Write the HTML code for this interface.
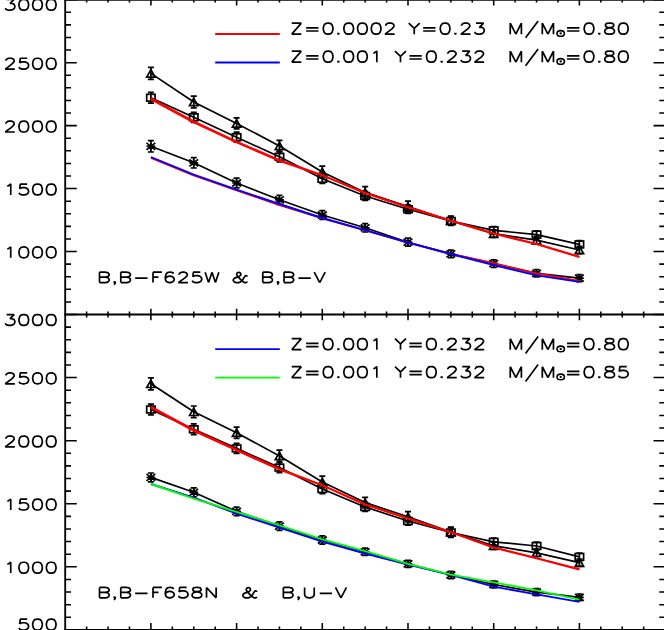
<!DOCTYPE html>
<html><head><meta charset="utf-8"><title>Chart</title>
<style>
html,body{margin:0;padding:0;background:#fff;}
body{width:664px;height:630px;overflow:hidden;}
svg{display:block;}

body,svg{font-family:"Liberation Sans",sans-serif;}
</style></head><body>
<svg width="664" height="630" viewBox="0 0 664 630">
<rect width="664" height="630" fill="#fff"/>
<polyline points="150.90,73.40 193.75,102.00 236.60,123.40 279.45,145.90 322.30,172.00 365.15,192.40 408.00,206.50 450.85,220.70 493.70,233.60 536.55,240.10 579.40,250.00" fill="none" stroke="#000" stroke-width="1.7" stroke-linejoin="round"/>
<polyline points="150.90,97.70 193.75,117.30 236.60,137.20 279.45,156.80 322.30,178.80 365.15,196.00 408.00,209.30 450.85,221.00 493.70,230.30 536.55,234.60 579.40,244.40" fill="none" stroke="#000" stroke-width="1.7" stroke-linejoin="round"/>
<polyline points="150.90,146.30 193.75,162.80 236.60,183.00 279.45,199.80 322.30,215.00 365.15,227.80 408.00,242.20 450.85,253.90 493.70,263.70 536.55,273.30 579.40,278.20" fill="none" stroke="#000" stroke-width="1.7" stroke-linejoin="round"/>
<path d="M150.90 67.40V79.40M147.90 67.40H153.90M147.90 79.40H153.90" stroke="#000" stroke-width="1.7" fill="none"/>
<path d="M150.90 69.70L155.10 77.10H146.70Z" stroke="#000" stroke-width="1.7" fill="none" stroke-linejoin="miter"/>
<path d="M150.90 92.30V103.10M147.90 92.30H153.90M147.90 103.10H153.90" stroke="#000" stroke-width="1.7" fill="none"/>
<rect x="146.70" y="94.30" width="8.40" height="6.80" stroke="#000" stroke-width="1.7" fill="none"/>
<path d="M150.90 140.60V152.00M147.90 140.60H153.90M147.90 152.00H153.90" stroke="#000" stroke-width="1.7" fill="none"/>
<path d="M146.50 146.30H155.30M150.90 142.80V149.80M146.50 142.80L155.30 149.80M146.50 149.80L155.30 142.80" stroke="#000" stroke-width="1.7" fill="none"/>
<path d="M193.75 96.20V107.80M190.75 96.20H196.75M190.75 107.80H196.75" stroke="#000" stroke-width="1.7" fill="none"/>
<path d="M193.75 98.30L197.95 105.70H189.55Z" stroke="#000" stroke-width="1.7" fill="none" stroke-linejoin="miter"/>
<path d="M193.75 112.30V122.30M190.75 112.30H196.75M190.75 122.30H196.75" stroke="#000" stroke-width="1.7" fill="none"/>
<rect x="189.55" y="113.90" width="8.40" height="6.80" stroke="#000" stroke-width="1.7" fill="none"/>
<path d="M193.75 157.60V168.00M190.75 157.60H196.75M190.75 168.00H196.75" stroke="#000" stroke-width="1.7" fill="none"/>
<path d="M189.35 162.80H198.15M193.75 159.30V166.30M189.35 159.30L198.15 166.30M189.35 166.30L198.15 159.30" stroke="#000" stroke-width="1.7" fill="none"/>
<path d="M236.60 117.90V128.90M233.60 117.90H239.60M233.60 128.90H239.60" stroke="#000" stroke-width="1.7" fill="none"/>
<path d="M236.60 119.70L240.80 127.10H232.40Z" stroke="#000" stroke-width="1.7" fill="none" stroke-linejoin="miter"/>
<path d="M236.60 132.20V142.20M233.60 132.20H239.60M233.60 142.20H239.60" stroke="#000" stroke-width="1.7" fill="none"/>
<rect x="232.40" y="133.80" width="8.40" height="6.80" stroke="#000" stroke-width="1.7" fill="none"/>
<path d="M236.60 178.20V187.80M233.60 178.20H239.60M233.60 187.80H239.60" stroke="#000" stroke-width="1.7" fill="none"/>
<path d="M232.20 183.00H241.00M236.60 179.50V186.50M232.20 179.50L241.00 186.50M232.20 186.50L241.00 179.50" stroke="#000" stroke-width="1.7" fill="none"/>
<path d="M279.45 140.40V151.40M276.45 140.40H282.45M276.45 151.40H282.45" stroke="#000" stroke-width="1.7" fill="none"/>
<path d="M279.45 142.20L283.65 149.60H275.25Z" stroke="#000" stroke-width="1.7" fill="none" stroke-linejoin="miter"/>
<path d="M279.45 151.80V161.80M276.45 151.80H282.45M276.45 161.80H282.45" stroke="#000" stroke-width="1.7" fill="none"/>
<rect x="275.25" y="153.40" width="8.40" height="6.80" stroke="#000" stroke-width="1.7" fill="none"/>
<path d="M279.45 195.30V204.30M276.45 195.30H282.45M276.45 204.30H282.45" stroke="#000" stroke-width="1.7" fill="none"/>
<path d="M275.05 199.80H283.85M279.45 196.30V203.30M275.05 196.30L283.85 203.30M275.05 203.30L283.85 196.30" stroke="#000" stroke-width="1.7" fill="none"/>
<path d="M322.30 166.20V177.80M319.30 166.20H325.30M319.30 177.80H325.30" stroke="#000" stroke-width="1.7" fill="none"/>
<path d="M322.30 168.30L326.50 175.70H318.10Z" stroke="#000" stroke-width="1.7" fill="none" stroke-linejoin="miter"/>
<path d="M322.30 174.20V183.40M319.30 174.20H325.30M319.30 183.40H325.30" stroke="#000" stroke-width="1.7" fill="none"/>
<rect x="318.10" y="175.40" width="8.40" height="6.80" stroke="#000" stroke-width="1.7" fill="none"/>
<path d="M322.30 210.70V219.30M319.30 210.70H325.30M319.30 219.30H325.30" stroke="#000" stroke-width="1.7" fill="none"/>
<path d="M317.90 215.00H326.70M322.30 211.50V218.50M317.90 211.50L326.70 218.50M317.90 218.50L326.70 211.50" stroke="#000" stroke-width="1.7" fill="none"/>
<path d="M365.15 186.60V198.20M362.15 186.60H368.15M362.15 198.20H368.15" stroke="#000" stroke-width="1.7" fill="none"/>
<path d="M365.15 188.70L369.35 196.10H360.95Z" stroke="#000" stroke-width="1.7" fill="none" stroke-linejoin="miter"/>
<path d="M365.15 191.60V200.40M362.15 191.60H368.15M362.15 200.40H368.15" stroke="#000" stroke-width="1.7" fill="none"/>
<rect x="360.95" y="192.60" width="8.40" height="6.80" stroke="#000" stroke-width="1.7" fill="none"/>
<path d="M365.15 223.60V232.00M362.15 223.60H368.15M362.15 232.00H368.15" stroke="#000" stroke-width="1.7" fill="none"/>
<path d="M360.75 227.80H369.55M365.15 224.30V231.30M360.75 224.30L369.55 231.30M360.75 231.30L369.55 224.30" stroke="#000" stroke-width="1.7" fill="none"/>
<path d="M408.00 201.10V211.90M405.00 201.10H411.00M405.00 211.90H411.00" stroke="#000" stroke-width="1.7" fill="none"/>
<path d="M408.00 202.80L412.20 210.20H403.80Z" stroke="#000" stroke-width="1.7" fill="none" stroke-linejoin="miter"/>
<path d="M408.00 205.10V213.50M405.00 205.10H411.00M405.00 213.50H411.00" stroke="#000" stroke-width="1.7" fill="none"/>
<rect x="403.80" y="205.90" width="8.40" height="6.80" stroke="#000" stroke-width="1.7" fill="none"/>
<path d="M408.00 238.20V246.20M405.00 238.20H411.00M405.00 246.20H411.00" stroke="#000" stroke-width="1.7" fill="none"/>
<path d="M403.60 242.20H412.40M408.00 238.70V245.70M403.60 238.70L412.40 245.70M403.60 245.70L412.40 238.70" stroke="#000" stroke-width="1.7" fill="none"/>
<path d="M450.85 216.20V225.20M447.85 216.20H453.85M447.85 225.20H453.85" stroke="#000" stroke-width="1.7" fill="none"/>
<path d="M450.85 217.00L455.05 224.40H446.65Z" stroke="#000" stroke-width="1.7" fill="none" stroke-linejoin="miter"/>
<path d="M450.85 216.50V225.50M447.85 216.50H453.85M447.85 225.50H453.85" stroke="#000" stroke-width="1.7" fill="none"/>
<rect x="446.65" y="217.60" width="8.40" height="6.80" stroke="#000" stroke-width="1.7" fill="none"/>
<path d="M450.85 250.10V257.70M447.85 250.10H453.85M447.85 257.70H453.85" stroke="#000" stroke-width="1.7" fill="none"/>
<path d="M446.45 253.90H455.25M450.85 250.40V257.40M446.45 250.40L455.25 257.40M446.45 257.40L455.25 250.40" stroke="#000" stroke-width="1.7" fill="none"/>
<path d="M493.70 229.90V237.30M490.70 229.90H496.70M490.70 237.30H496.70" stroke="#000" stroke-width="1.7" fill="none"/>
<path d="M493.70 229.90L497.90 237.30H489.50Z" stroke="#000" stroke-width="1.7" fill="none" stroke-linejoin="miter"/>
<path d="M493.70 226.50V234.10M490.70 226.50H496.70M490.70 234.10H496.70" stroke="#000" stroke-width="1.7" fill="none"/>
<rect x="489.50" y="226.90" width="8.40" height="6.80" stroke="#000" stroke-width="1.7" fill="none"/>
<path d="M493.70 259.90V267.50M490.70 259.90H496.70M490.70 267.50H496.70" stroke="#000" stroke-width="1.7" fill="none"/>
<path d="M489.30 263.70H498.10M493.70 260.20V267.20M489.30 260.20L498.10 267.20M489.30 267.20L498.10 260.20" stroke="#000" stroke-width="1.7" fill="none"/>
<path d="M536.55 236.40V243.80M533.55 236.40H539.55M533.55 243.80H539.55" stroke="#000" stroke-width="1.7" fill="none"/>
<path d="M536.55 236.40L540.75 243.80H532.35Z" stroke="#000" stroke-width="1.7" fill="none" stroke-linejoin="miter"/>
<path d="M536.55 230.80V238.40M533.55 230.80H539.55M533.55 238.40H539.55" stroke="#000" stroke-width="1.7" fill="none"/>
<rect x="532.35" y="231.20" width="8.40" height="6.80" stroke="#000" stroke-width="1.7" fill="none"/>
<path d="M536.55 269.70V276.90M533.55 269.70H539.55M533.55 276.90H539.55" stroke="#000" stroke-width="1.7" fill="none"/>
<path d="M532.15 273.30H540.95M536.55 269.80V276.80M532.15 269.80L540.95 276.80M532.15 276.80L540.95 269.80" stroke="#000" stroke-width="1.7" fill="none"/>
<path d="M579.40 246.30V253.70M576.40 246.30H582.40M576.40 253.70H582.40" stroke="#000" stroke-width="1.7" fill="none"/>
<path d="M579.40 246.30L583.60 253.70H575.20Z" stroke="#000" stroke-width="1.7" fill="none" stroke-linejoin="miter"/>
<path d="M579.40 240.60V248.20M576.40 240.60H582.40M576.40 248.20H582.40" stroke="#000" stroke-width="1.7" fill="none"/>
<rect x="575.20" y="241.00" width="8.40" height="6.80" stroke="#000" stroke-width="1.7" fill="none"/>
<path d="M579.40 274.70V281.70M576.40 274.70H582.40M576.40 281.70H582.40" stroke="#000" stroke-width="1.7" fill="none"/>
<path d="M575.00 278.20H583.80M579.40 274.70V281.70M575.00 274.70L583.80 281.70M575.00 281.70L583.80 274.70" stroke="#000" stroke-width="1.7" fill="none"/>
<polyline points="150.90,98.30 193.75,121.30 236.60,141.45 279.45,160.05 322.30,175.05 365.15,192.88 408.00,207.10 450.85,220.70 493.70,233.45 536.55,243.80 579.40,256.65" fill="none" stroke="#ff0000" stroke-width="1.75" stroke-linejoin="round"/>
<polyline points="150.90,99.50 193.75,122.50 236.60,142.55 279.45,160.95 322.30,175.55 365.15,193.12 408.00,207.30 450.85,220.90 493.70,233.75 536.55,244.20 579.40,257.15" fill="none" stroke="#ff0000" stroke-width="1.75" stroke-linejoin="round"/>
<polyline points="150.90,157.80 193.75,175.50 236.60,190.50 279.45,205.00 322.30,218.40 365.15,230.40 408.00,242.70 450.85,253.80 493.70,263.20 536.55,273.50 579.40,280.80" fill="none" stroke="#ff0000" stroke-width="1.85" stroke-linejoin="round"/>
<polyline points="150.90,157.00 193.75,174.70 236.60,189.60 279.45,204.00 322.30,218.00 365.15,230.10 408.00,242.70 450.85,254.00 493.70,265.00 536.55,275.40 579.40,281.80" fill="none" stroke="#0000ff" stroke-width="1.85" stroke-linejoin="round"/>
<polyline points="150.90,383.80 193.75,411.80 236.60,432.70 279.45,455.90 322.30,482.00 365.15,502.60 408.00,516.80 450.85,532.00 493.70,545.80 536.55,552.80 579.40,562.70" fill="none" stroke="#000" stroke-width="1.7" stroke-linejoin="round"/>
<polyline points="150.90,409.50 193.75,429.30 236.60,448.40 279.45,467.60 322.30,489.00 365.15,507.00 408.00,521.00 450.85,532.50 493.70,541.80 536.55,546.00 579.40,556.90" fill="none" stroke="#000" stroke-width="1.7" stroke-linejoin="round"/>
<polyline points="150.90,477.40 193.75,492.30 236.60,511.40 279.45,526.10 322.30,540.00 365.15,551.80 408.00,563.90 450.85,575.00 493.70,584.50 536.55,592.10 579.40,597.30" fill="none" stroke="#000" stroke-width="1.7" stroke-linejoin="round"/>
<path d="M150.90 377.80V389.80M147.90 377.80H153.90M147.90 389.80H153.90" stroke="#000" stroke-width="1.7" fill="none"/>
<path d="M150.90 380.10L155.10 387.50H146.70Z" stroke="#000" stroke-width="1.7" fill="none" stroke-linejoin="miter"/>
<path d="M150.90 404.20V414.80M147.90 404.20H153.90M147.90 414.80H153.90" stroke="#000" stroke-width="1.7" fill="none"/>
<rect x="146.70" y="406.10" width="8.40" height="6.80" stroke="#000" stroke-width="1.7" fill="none"/>
<path d="M150.90 473.00V481.80M147.90 473.00H153.90M147.90 481.80H153.90" stroke="#000" stroke-width="1.7" fill="none"/>
<path d="M146.50 477.40H155.30M150.90 473.90V480.90M146.50 473.90L155.30 480.90M146.50 480.90L155.30 473.90" stroke="#000" stroke-width="1.7" fill="none"/>
<path d="M193.75 406.00V417.60M190.75 406.00H196.75M190.75 417.60H196.75" stroke="#000" stroke-width="1.7" fill="none"/>
<path d="M193.75 408.10L197.95 415.50H189.55Z" stroke="#000" stroke-width="1.7" fill="none" stroke-linejoin="miter"/>
<path d="M193.75 423.90V434.70M190.75 423.90H196.75M190.75 434.70H196.75" stroke="#000" stroke-width="1.7" fill="none"/>
<rect x="189.55" y="425.90" width="8.40" height="6.80" stroke="#000" stroke-width="1.7" fill="none"/>
<path d="M193.75 487.80V496.80M190.75 487.80H196.75M190.75 496.80H196.75" stroke="#000" stroke-width="1.7" fill="none"/>
<path d="M189.35 492.30H198.15M193.75 488.80V495.80M189.35 488.80L198.15 495.80M189.35 495.80L198.15 488.80" stroke="#000" stroke-width="1.7" fill="none"/>
<path d="M236.60 427.10V438.30M233.60 427.10H239.60M233.60 438.30H239.60" stroke="#000" stroke-width="1.7" fill="none"/>
<path d="M236.60 429.00L240.80 436.40H232.40Z" stroke="#000" stroke-width="1.7" fill="none" stroke-linejoin="miter"/>
<path d="M236.60 443.40V453.40M233.60 443.40H239.60M233.60 453.40H239.60" stroke="#000" stroke-width="1.7" fill="none"/>
<rect x="232.40" y="445.00" width="8.40" height="6.80" stroke="#000" stroke-width="1.7" fill="none"/>
<path d="M236.60 507.10V515.70M233.60 507.10H239.60M233.60 515.70H239.60" stroke="#000" stroke-width="1.7" fill="none"/>
<path d="M232.20 511.40H241.00M236.60 507.90V514.90M232.20 507.90L241.00 514.90M232.20 514.90L241.00 507.90" stroke="#000" stroke-width="1.7" fill="none"/>
<path d="M279.45 450.10V461.70M276.45 450.10H282.45M276.45 461.70H282.45" stroke="#000" stroke-width="1.7" fill="none"/>
<path d="M279.45 452.20L283.65 459.60H275.25Z" stroke="#000" stroke-width="1.7" fill="none" stroke-linejoin="miter"/>
<path d="M279.45 462.60V472.60M276.45 462.60H282.45M276.45 472.60H282.45" stroke="#000" stroke-width="1.7" fill="none"/>
<rect x="275.25" y="464.20" width="8.40" height="6.80" stroke="#000" stroke-width="1.7" fill="none"/>
<path d="M279.45 521.90V530.30M276.45 521.90H282.45M276.45 530.30H282.45" stroke="#000" stroke-width="1.7" fill="none"/>
<path d="M275.05 526.10H283.85M279.45 522.60V529.60M275.05 522.60L283.85 529.60M275.05 529.60L283.85 522.60" stroke="#000" stroke-width="1.7" fill="none"/>
<path d="M322.30 476.20V487.80M319.30 476.20H325.30M319.30 487.80H325.30" stroke="#000" stroke-width="1.7" fill="none"/>
<path d="M322.30 478.30L326.50 485.70H318.10Z" stroke="#000" stroke-width="1.7" fill="none" stroke-linejoin="miter"/>
<path d="M322.30 484.40V493.60M319.30 484.40H325.30M319.30 493.60H325.30" stroke="#000" stroke-width="1.7" fill="none"/>
<rect x="318.10" y="485.60" width="8.40" height="6.80" stroke="#000" stroke-width="1.7" fill="none"/>
<path d="M322.30 535.80V544.20M319.30 535.80H325.30M319.30 544.20H325.30" stroke="#000" stroke-width="1.7" fill="none"/>
<path d="M317.90 540.00H326.70M322.30 536.50V543.50M317.90 536.50L326.70 543.50M317.90 543.50L326.70 536.50" stroke="#000" stroke-width="1.7" fill="none"/>
<path d="M365.15 497.40V507.80M362.15 497.40H368.15M362.15 507.80H368.15" stroke="#000" stroke-width="1.7" fill="none"/>
<path d="M365.15 498.90L369.35 506.30H360.95Z" stroke="#000" stroke-width="1.7" fill="none" stroke-linejoin="miter"/>
<path d="M365.15 502.60V511.40M362.15 502.60H368.15M362.15 511.40H368.15" stroke="#000" stroke-width="1.7" fill="none"/>
<rect x="360.95" y="503.60" width="8.40" height="6.80" stroke="#000" stroke-width="1.7" fill="none"/>
<path d="M365.15 548.10V555.50M362.15 548.10H368.15M362.15 555.50H368.15" stroke="#000" stroke-width="1.7" fill="none"/>
<path d="M360.75 551.80H369.55M365.15 548.30V555.30M360.75 548.30L369.55 555.30M360.75 555.30L369.55 548.30" stroke="#000" stroke-width="1.7" fill="none"/>
<path d="M408.00 511.60V522.00M405.00 511.60H411.00M405.00 522.00H411.00" stroke="#000" stroke-width="1.7" fill="none"/>
<path d="M408.00 513.10L412.20 520.50H403.80Z" stroke="#000" stroke-width="1.7" fill="none" stroke-linejoin="miter"/>
<path d="M408.00 516.80V525.20M405.00 516.80H411.00M405.00 525.20H411.00" stroke="#000" stroke-width="1.7" fill="none"/>
<rect x="403.80" y="517.60" width="8.40" height="6.80" stroke="#000" stroke-width="1.7" fill="none"/>
<path d="M408.00 560.40V567.40M405.00 560.40H411.00M405.00 567.40H411.00" stroke="#000" stroke-width="1.7" fill="none"/>
<path d="M403.60 563.90H412.40M408.00 560.40V567.40M403.60 560.40L412.40 567.40M403.60 567.40L412.40 560.40" stroke="#000" stroke-width="1.7" fill="none"/>
<path d="M450.85 527.10V536.90M447.85 527.10H453.85M447.85 536.90H453.85" stroke="#000" stroke-width="1.7" fill="none"/>
<path d="M450.85 528.30L455.05 535.70H446.65Z" stroke="#000" stroke-width="1.7" fill="none" stroke-linejoin="miter"/>
<path d="M450.85 527.60V537.40M447.85 527.60H453.85M447.85 537.40H453.85" stroke="#000" stroke-width="1.7" fill="none"/>
<rect x="446.65" y="529.10" width="8.40" height="6.80" stroke="#000" stroke-width="1.7" fill="none"/>
<path d="M450.85 571.30V578.70M447.85 571.30H453.85M447.85 578.70H453.85" stroke="#000" stroke-width="1.7" fill="none"/>
<path d="M446.45 575.00H455.25M450.85 571.50V578.50M446.45 571.50L455.25 578.50M446.45 578.50L455.25 571.50" stroke="#000" stroke-width="1.7" fill="none"/>
<path d="M493.70 542.10V549.50M490.70 542.10H496.70M490.70 549.50H496.70" stroke="#000" stroke-width="1.7" fill="none"/>
<path d="M493.70 542.10L497.90 549.50H489.50Z" stroke="#000" stroke-width="1.7" fill="none" stroke-linejoin="miter"/>
<path d="M493.70 538.00V545.60M490.70 538.00H496.70M490.70 545.60H496.70" stroke="#000" stroke-width="1.7" fill="none"/>
<rect x="489.50" y="538.40" width="8.40" height="6.80" stroke="#000" stroke-width="1.7" fill="none"/>
<path d="M493.70 581.00V588.00M490.70 581.00H496.70M490.70 588.00H496.70" stroke="#000" stroke-width="1.7" fill="none"/>
<path d="M489.30 584.50H498.10M493.70 581.00V588.00M489.30 581.00L498.10 588.00M489.30 588.00L498.10 581.00" stroke="#000" stroke-width="1.7" fill="none"/>
<path d="M536.55 549.10V556.50M533.55 549.10H539.55M533.55 556.50H539.55" stroke="#000" stroke-width="1.7" fill="none"/>
<path d="M536.55 549.10L540.75 556.50H532.35Z" stroke="#000" stroke-width="1.7" fill="none" stroke-linejoin="miter"/>
<path d="M536.55 542.20V549.80M533.55 542.20H539.55M533.55 549.80H539.55" stroke="#000" stroke-width="1.7" fill="none"/>
<rect x="532.35" y="542.60" width="8.40" height="6.80" stroke="#000" stroke-width="1.7" fill="none"/>
<path d="M536.55 588.60V595.60M533.55 588.60H539.55M533.55 595.60H539.55" stroke="#000" stroke-width="1.7" fill="none"/>
<path d="M532.15 592.10H540.95M536.55 588.60V595.60M532.15 588.60L540.95 595.60M532.15 595.60L540.95 588.60" stroke="#000" stroke-width="1.7" fill="none"/>
<path d="M579.40 559.00V566.40M576.40 559.00H582.40M576.40 566.40H582.40" stroke="#000" stroke-width="1.7" fill="none"/>
<path d="M579.40 559.00L583.60 566.40H575.20Z" stroke="#000" stroke-width="1.7" fill="none" stroke-linejoin="miter"/>
<path d="M579.40 553.10V560.70M576.40 553.10H582.40M576.40 560.70H582.40" stroke="#000" stroke-width="1.7" fill="none"/>
<rect x="575.20" y="553.50" width="8.40" height="6.80" stroke="#000" stroke-width="1.7" fill="none"/>
<path d="M579.40 594.00V600.60M576.40 594.00H582.40M576.40 600.60H582.40" stroke="#000" stroke-width="1.7" fill="none"/>
<path d="M575.00 597.30H583.80M579.40 593.80V600.80M575.00 593.80L583.80 600.80M575.00 600.80L583.80 593.80" stroke="#000" stroke-width="1.7" fill="none"/>
<polyline points="150.90,406.60 193.75,429.70 236.60,449.45 279.45,468.85 322.30,485.05 365.15,504.38 408.00,518.40 450.85,532.10 493.70,547.35 536.55,558.00 579.40,569.05" fill="none" stroke="#ff0000" stroke-width="1.75" stroke-linejoin="round"/>
<polyline points="150.90,407.80 193.75,430.90 236.60,450.55 279.45,469.75 322.30,485.55 365.15,504.62 408.00,518.60 450.85,532.30 493.70,547.65 536.55,558.40 579.40,569.55" fill="none" stroke="#ff0000" stroke-width="1.75" stroke-linejoin="round"/>
<polyline points="150.90,484.00 193.75,497.60 236.60,513.60 279.45,527.60 322.30,541.70 365.15,553.50 408.00,564.70 450.85,574.90 493.70,586.60 536.55,594.40 579.40,601.90" fill="none" stroke="#0000ff" stroke-width="1.85" stroke-linejoin="round"/>
<polyline points="150.90,484.00 193.75,498.60 236.60,511.90 279.45,525.40 322.30,539.40 365.15,551.20 408.00,563.90 450.85,574.60 493.70,582.30 536.55,590.40 579.40,599.70" fill="none" stroke="#00ff00" stroke-width="1.85" stroke-linejoin="round"/>
<line x1="64.2" y1="-0.3" x2="666.1" y2="-0.3" stroke="#000" stroke-width="1.85"/>
<line x1="64.2" y1="314.5" x2="666.1" y2="314.5" stroke="#000" stroke-width="1.85"/>
<line x1="64.2" y1="629.9" x2="666.1" y2="629.9" stroke="#000" stroke-width="1.85"/>
<line x1="65.2" y1="-2" x2="65.2" y2="632" stroke="#000" stroke-width="1.85"/>
<line x1="665.1" y1="-2" x2="665.1" y2="632" stroke="#000" stroke-width="1.85"/>
<path d="M86.62 -0.3v2.90M86.62 311.60v5.80M86.62 629.9v-3.48M108.05 -0.3v2.90M108.05 311.60v5.80M108.05 629.9v-3.48M129.48 -0.3v2.90M129.48 311.60v5.80M129.48 629.9v-3.48M150.90 -0.3v5.80M150.90 308.70v11.60M150.90 629.9v-6.96M172.32 -0.3v2.90M172.32 311.60v5.80M172.32 629.9v-3.48M193.75 -0.3v2.90M193.75 311.60v5.80M193.75 629.9v-3.48M215.18 -0.3v2.90M215.18 311.60v5.80M215.18 629.9v-3.48M236.60 -0.3v5.80M236.60 308.70v11.60M236.60 629.9v-6.96M258.03 -0.3v2.90M258.03 311.60v5.80M258.03 629.9v-3.48M279.45 -0.3v2.90M279.45 311.60v5.80M279.45 629.9v-3.48M300.88 -0.3v2.90M300.88 311.60v5.80M300.88 629.9v-3.48M322.30 -0.3v5.80M322.30 308.70v11.60M322.30 629.9v-6.96M343.73 -0.3v2.90M343.73 311.60v5.80M343.73 629.9v-3.48M365.15 -0.3v2.90M365.15 311.60v5.80M365.15 629.9v-3.48M386.57 -0.3v2.90M386.57 311.60v5.80M386.57 629.9v-3.48M408.00 -0.3v5.80M408.00 308.70v11.60M408.00 629.9v-6.96M429.43 -0.3v2.90M429.43 311.60v5.80M429.43 629.9v-3.48M450.85 -0.3v2.90M450.85 311.60v5.80M450.85 629.9v-3.48M472.27 -0.3v2.90M472.27 311.60v5.80M472.27 629.9v-3.48M493.70 -0.3v5.80M493.70 308.70v11.60M493.70 629.9v-6.96M515.12 -0.3v2.90M515.12 311.60v5.80M515.12 629.9v-3.48M536.55 -0.3v2.90M536.55 311.60v5.80M536.55 629.9v-3.48M557.98 -0.3v2.90M557.98 311.60v5.80M557.98 629.9v-3.48M579.40 -0.3v5.80M579.40 308.70v11.60M579.40 629.9v-6.96M600.83 -0.3v2.90M600.83 311.60v5.80M600.83 629.9v-3.48M622.25 -0.3v2.90M622.25 311.60v5.80M622.25 629.9v-3.48M643.68 -0.3v2.90M643.68 311.60v5.80M643.68 629.9v-3.48M65.2 314.50h11.60M665.1 314.50h-11.60M65.2 301.91h5.80M665.1 301.91h-5.80M65.2 289.32h5.80M665.1 289.32h-5.80M65.2 276.72h5.80M665.1 276.72h-5.80M65.2 264.13h5.80M665.1 264.13h-5.80M65.2 251.54h11.60M665.1 251.54h-11.60M65.2 238.95h5.80M665.1 238.95h-5.80M65.2 226.36h5.80M665.1 226.36h-5.80M65.2 213.76h5.80M665.1 213.76h-5.80M65.2 201.17h5.80M665.1 201.17h-5.80M65.2 188.58h11.60M665.1 188.58h-11.60M65.2 175.99h5.80M665.1 175.99h-5.80M65.2 163.40h5.80M665.1 163.40h-5.80M65.2 150.80h5.80M665.1 150.80h-5.80M65.2 138.21h5.80M665.1 138.21h-5.80M65.2 125.62h11.60M665.1 125.62h-11.60M65.2 113.03h5.80M665.1 113.03h-5.80M65.2 100.44h5.80M665.1 100.44h-5.80M65.2 87.84h5.80M665.1 87.84h-5.80M65.2 75.25h5.80M665.1 75.25h-5.80M65.2 62.66h11.60M665.1 62.66h-11.60M65.2 50.07h5.80M665.1 50.07h-5.80M65.2 37.48h5.80M665.1 37.48h-5.80M65.2 24.88h5.80M665.1 24.88h-5.80M65.2 12.29h5.80M665.1 12.29h-5.80M65.2 -0.30h11.60M665.1 -0.30h-11.60M65.2 629.90h11.60M665.1 629.90h-11.60M65.2 617.28h5.80M665.1 617.28h-5.80M65.2 604.67h5.80M665.1 604.67h-5.80M65.2 592.05h5.80M665.1 592.05h-5.80M65.2 579.44h5.80M665.1 579.44h-5.80M65.2 566.82h11.60M665.1 566.82h-11.60M65.2 554.20h5.80M665.1 554.20h-5.80M65.2 541.59h5.80M665.1 541.59h-5.80M65.2 528.97h5.80M665.1 528.97h-5.80M65.2 516.36h5.80M665.1 516.36h-5.80M65.2 503.74h11.60M665.1 503.74h-11.60M65.2 491.12h5.80M665.1 491.12h-5.80M65.2 478.51h5.80M665.1 478.51h-5.80M65.2 465.89h5.80M665.1 465.89h-5.80M65.2 453.28h5.80M665.1 453.28h-5.80M65.2 440.66h11.60M665.1 440.66h-11.60M65.2 428.04h5.80M665.1 428.04h-5.80M65.2 415.43h5.80M665.1 415.43h-5.80M65.2 402.81h5.80M665.1 402.81h-5.80M65.2 390.20h5.80M665.1 390.20h-5.80M65.2 377.58h11.60M665.1 377.58h-11.60M65.2 364.96h5.80M665.1 364.96h-5.80M65.2 352.35h5.80M665.1 352.35h-5.80M65.2 339.73h5.80M665.1 339.73h-5.80M65.2 327.12h5.80M665.1 327.12h-5.80M65.2 314.50h11.60M665.1 314.50h-11.60" stroke="#000" stroke-width="1.55" fill="none"/>
<line x1="215.2" y1="34.0" x2="279.8" y2="34.0" stroke="#ff0000" stroke-width="1.9"/>
<line x1="215.2" y1="62.5" x2="279.8" y2="62.5" stroke="#0000ff" stroke-width="1.9"/>
<line x1="215.2" y1="349.1" x2="279.8" y2="349.1" stroke="#0000ff" stroke-width="1.9"/>
<line x1="215.2" y1="377.6" x2="279.8" y2="377.6" stroke="#00ff00" stroke-width="1.9"/>
<g id="t">
<g role="img" aria-label="3000"><title>3000</title><path d="M6.62 -0.66L14.17 -0.66L10.05 3.48L12.11 3.48L13.48 4.00L14.17 4.51L14.85 6.06L14.85 7.10L14.17 8.65L12.80 9.68L10.74 10.20L8.68 10.20L6.62 9.68L5.94 9.17L5.25 8.13M23.09 -0.66L21.03 -0.14L19.66 1.41L18.97 4.00L18.97 5.55L19.66 8.13L21.03 9.68L23.09 10.20L24.46 10.20L26.52 9.68L27.89 8.13L28.57 5.55L28.57 4.00L27.89 1.41L26.52 -0.14L24.46 -0.66L23.09 -0.66M36.81 -0.66L34.75 -0.14L33.38 1.41L32.69 4.00L32.69 5.55L33.38 8.13L34.75 9.68L36.81 10.20L38.18 10.20L40.24 9.68L41.61 8.13L42.29 5.55L42.29 4.00L41.61 1.41L40.24 -0.14L38.18 -0.66L36.81 -0.66M50.53 -0.66L48.47 -0.14L47.10 1.41L46.41 4.00L46.41 5.55L47.10 8.13L48.47 9.68L50.53 10.20L51.90 10.20L53.96 9.68L55.33 8.13L56.01 5.55L56.01 4.00L55.33 1.41L53.96 -0.14L51.90 -0.66L50.53 -0.66" fill="none" stroke="#000" stroke-width="1.7" stroke-linecap="butt" stroke-linejoin="bevel"/></g>
<g role="img" aria-label="2500"><title>2500</title><path d="M5.94 60.83L5.94 60.31L6.62 59.28L7.31 58.76L8.68 58.24L11.42 58.24L12.80 58.76L13.48 59.28L14.17 60.31L14.17 61.34L13.48 62.38L12.11 63.93L5.25 69.10L14.85 69.10M27.20 58.24L20.34 58.24L19.66 62.90L20.34 62.38L22.40 61.86L24.46 61.86L26.52 62.38L27.89 63.41L28.57 64.96L28.57 66.00L27.89 67.55L26.52 68.58L24.46 69.10L22.40 69.10L20.34 68.58L19.66 68.07L18.97 67.03M36.81 58.24L34.75 58.76L33.38 60.31L32.69 62.90L32.69 64.45L33.38 67.03L34.75 68.58L36.81 69.10L38.18 69.10L40.24 68.58L41.61 67.03L42.29 64.45L42.29 62.90L41.61 60.31L40.24 58.76L38.18 58.24L36.81 58.24M50.53 58.24L48.47 58.76L47.10 60.31L46.41 62.90L46.41 64.45L47.10 67.03L48.47 68.58L50.53 69.10L51.90 69.10L53.96 68.58L55.33 67.03L56.01 64.45L56.01 62.90L55.33 60.31L53.96 58.76L51.90 58.24L50.53 58.24" fill="none" stroke="#000" stroke-width="1.7" stroke-linecap="butt" stroke-linejoin="bevel"/></g>
<g role="img" aria-label="2000"><title>2000</title><path d="M5.94 123.73L5.94 123.21L6.62 122.18L7.31 121.66L8.68 121.14L11.42 121.14L12.80 121.66L13.48 122.18L14.17 123.21L14.17 124.25L13.48 125.28L12.11 126.83L5.25 132.00L14.85 132.00M23.09 121.14L21.03 121.66L19.66 123.21L18.97 125.80L18.97 127.35L19.66 129.93L21.03 131.48L23.09 132.00L24.46 132.00L26.52 131.48L27.89 129.93L28.57 127.35L28.57 125.80L27.89 123.21L26.52 121.66L24.46 121.14L23.09 121.14M36.81 121.14L34.75 121.66L33.38 123.21L32.69 125.80L32.69 127.35L33.38 129.93L34.75 131.48L36.81 132.00L38.18 132.00L40.24 131.48L41.61 129.93L42.29 127.35L42.29 125.80L41.61 123.21L40.24 121.66L38.18 121.14L36.81 121.14M50.53 121.14L48.47 121.66L47.10 123.21L46.41 125.80L46.41 127.35L47.10 129.93L48.47 131.48L50.53 132.00L51.90 132.00L53.96 131.48L55.33 129.93L56.01 127.35L56.01 125.80L55.33 123.21L53.96 121.66L51.90 121.14L50.53 121.14" fill="none" stroke="#000" stroke-width="1.7" stroke-linecap="butt" stroke-linejoin="bevel"/></g>
<g role="img" aria-label="1500"><title>1500</title><path d="M7.31 186.11L8.68 185.59L10.74 184.04L10.74 194.90M27.20 184.04L20.34 184.04L19.66 188.70L20.34 188.18L22.40 187.66L24.46 187.66L26.52 188.18L27.89 189.21L28.57 190.76L28.57 191.80L27.89 193.35L26.52 194.38L24.46 194.90L22.40 194.90L20.34 194.38L19.66 193.87L18.97 192.83M36.81 184.04L34.75 184.56L33.38 186.11L32.69 188.70L32.69 190.25L33.38 192.83L34.75 194.38L36.81 194.90L38.18 194.90L40.24 194.38L41.61 192.83L42.29 190.25L42.29 188.70L41.61 186.11L40.24 184.56L38.18 184.04L36.81 184.04M50.53 184.04L48.47 184.56L47.10 186.11L46.41 188.70L46.41 190.25L47.10 192.83L48.47 194.38L50.53 194.90L51.90 194.90L53.96 194.38L55.33 192.83L56.01 190.25L56.01 188.70L55.33 186.11L53.96 184.56L51.90 184.04L50.53 184.04" fill="none" stroke="#000" stroke-width="1.7" stroke-linecap="butt" stroke-linejoin="bevel"/></g>
<g role="img" aria-label="1000"><title>1000</title><path d="M7.31 249.01L8.68 248.49L10.74 246.94L10.74 257.80M23.09 246.94L21.03 247.46L19.66 249.01L18.97 251.60L18.97 253.15L19.66 255.73L21.03 257.28L23.09 257.80L24.46 257.80L26.52 257.28L27.89 255.73L28.57 253.15L28.57 251.60L27.89 249.01L26.52 247.46L24.46 246.94L23.09 246.94M36.81 246.94L34.75 247.46L33.38 249.01L32.69 251.60L32.69 253.15L33.38 255.73L34.75 257.28L36.81 257.80L38.18 257.80L40.24 257.28L41.61 255.73L42.29 253.15L42.29 251.60L41.61 249.01L40.24 247.46L38.18 246.94L36.81 246.94M50.53 246.94L48.47 247.46L47.10 249.01L46.41 251.60L46.41 253.15L47.10 255.73L48.47 257.28L50.53 257.80L51.90 257.80L53.96 257.28L55.33 255.73L56.01 253.15L56.01 251.60L55.33 249.01L53.96 247.46L51.90 246.94L50.53 246.94" fill="none" stroke="#000" stroke-width="1.7" stroke-linecap="butt" stroke-linejoin="bevel"/></g>
<g role="img" aria-label="3000"><title>3000</title><path d="M6.62 314.54L14.17 314.54L10.05 318.68L12.11 318.68L13.48 319.20L14.17 319.71L14.85 321.26L14.85 322.30L14.17 323.85L12.80 324.88L10.74 325.40L8.68 325.40L6.62 324.88L5.94 324.37L5.25 323.33M23.09 314.54L21.03 315.06L19.66 316.61L18.97 319.20L18.97 320.75L19.66 323.33L21.03 324.88L23.09 325.40L24.46 325.40L26.52 324.88L27.89 323.33L28.57 320.75L28.57 319.20L27.89 316.61L26.52 315.06L24.46 314.54L23.09 314.54M36.81 314.54L34.75 315.06L33.38 316.61L32.69 319.20L32.69 320.75L33.38 323.33L34.75 324.88L36.81 325.40L38.18 325.40L40.24 324.88L41.61 323.33L42.29 320.75L42.29 319.20L41.61 316.61L40.24 315.06L38.18 314.54L36.81 314.54M50.53 314.54L48.47 315.06L47.10 316.61L46.41 319.20L46.41 320.75L47.10 323.33L48.47 324.88L50.53 325.40L51.90 325.40L53.96 324.88L55.33 323.33L56.01 320.75L56.01 319.20L55.33 316.61L53.96 315.06L51.90 314.54L50.53 314.54" fill="none" stroke="#000" stroke-width="1.7" stroke-linecap="butt" stroke-linejoin="bevel"/></g>
<g role="img" aria-label="2500"><title>2500</title><path d="M5.94 375.53L5.94 375.01L6.62 373.98L7.31 373.46L8.68 372.94L11.42 372.94L12.80 373.46L13.48 373.98L14.17 375.01L14.17 376.05L13.48 377.08L12.11 378.63L5.25 383.80L14.85 383.80M27.20 372.94L20.34 372.94L19.66 377.60L20.34 377.08L22.40 376.56L24.46 376.56L26.52 377.08L27.89 378.11L28.57 379.66L28.57 380.70L27.89 382.25L26.52 383.28L24.46 383.80L22.40 383.80L20.34 383.28L19.66 382.77L18.97 381.73M36.81 372.94L34.75 373.46L33.38 375.01L32.69 377.60L32.69 379.15L33.38 381.73L34.75 383.28L36.81 383.80L38.18 383.80L40.24 383.28L41.61 381.73L42.29 379.15L42.29 377.60L41.61 375.01L40.24 373.46L38.18 372.94L36.81 372.94M50.53 372.94L48.47 373.46L47.10 375.01L46.41 377.60L46.41 379.15L47.10 381.73L48.47 383.28L50.53 383.80L51.90 383.80L53.96 383.28L55.33 381.73L56.01 379.15L56.01 377.60L55.33 375.01L53.96 373.46L51.90 372.94L50.53 372.94" fill="none" stroke="#000" stroke-width="1.7" stroke-linecap="butt" stroke-linejoin="bevel"/></g>
<g role="img" aria-label="2000"><title>2000</title><path d="M5.94 438.63L5.94 438.11L6.62 437.08L7.31 436.56L8.68 436.04L11.42 436.04L12.80 436.56L13.48 437.08L14.17 438.11L14.17 439.14L13.48 440.18L12.11 441.73L5.25 446.90L14.85 446.90M23.09 436.04L21.03 436.56L19.66 438.11L18.97 440.70L18.97 442.25L19.66 444.83L21.03 446.38L23.09 446.90L24.46 446.90L26.52 446.38L27.89 444.83L28.57 442.25L28.57 440.70L27.89 438.11L26.52 436.56L24.46 436.04L23.09 436.04M36.81 436.04L34.75 436.56L33.38 438.11L32.69 440.70L32.69 442.25L33.38 444.83L34.75 446.38L36.81 446.90L38.18 446.90L40.24 446.38L41.61 444.83L42.29 442.25L42.29 440.70L41.61 438.11L40.24 436.56L38.18 436.04L36.81 436.04M50.53 436.04L48.47 436.56L47.10 438.11L46.41 440.70L46.41 442.25L47.10 444.83L48.47 446.38L50.53 446.90L51.90 446.90L53.96 446.38L55.33 444.83L56.01 442.25L56.01 440.70L55.33 438.11L53.96 436.56L51.90 436.04L50.53 436.04" fill="none" stroke="#000" stroke-width="1.7" stroke-linecap="butt" stroke-linejoin="bevel"/></g>
<g role="img" aria-label="1500"><title>1500</title><path d="M7.31 501.21L8.68 500.69L10.74 499.14L10.74 510.00M27.20 499.14L20.34 499.14L19.66 503.80L20.34 503.28L22.40 502.76L24.46 502.76L26.52 503.28L27.89 504.31L28.57 505.86L28.57 506.90L27.89 508.45L26.52 509.48L24.46 510.00L22.40 510.00L20.34 509.48L19.66 508.97L18.97 507.93M36.81 499.14L34.75 499.66L33.38 501.21L32.69 503.80L32.69 505.35L33.38 507.93L34.75 509.48L36.81 510.00L38.18 510.00L40.24 509.48L41.61 507.93L42.29 505.35L42.29 503.80L41.61 501.21L40.24 499.66L38.18 499.14L36.81 499.14M50.53 499.14L48.47 499.66L47.10 501.21L46.41 503.80L46.41 505.35L47.10 507.93L48.47 509.48L50.53 510.00L51.90 510.00L53.96 509.48L55.33 507.93L56.01 505.35L56.01 503.80L55.33 501.21L53.96 499.66L51.90 499.14L50.53 499.14" fill="none" stroke="#000" stroke-width="1.7" stroke-linecap="butt" stroke-linejoin="bevel"/></g>
<g role="img" aria-label="1000"><title>1000</title><path d="M7.31 564.31L8.68 563.79L10.74 562.24L10.74 573.10M23.09 562.24L21.03 562.76L19.66 564.31L18.97 566.90L18.97 568.45L19.66 571.03L21.03 572.58L23.09 573.10L24.46 573.10L26.52 572.58L27.89 571.03L28.57 568.45L28.57 566.90L27.89 564.31L26.52 562.76L24.46 562.24L23.09 562.24M36.81 562.24L34.75 562.76L33.38 564.31L32.69 566.90L32.69 568.45L33.38 571.03L34.75 572.58L36.81 573.10L38.18 573.10L40.24 572.58L41.61 571.03L42.29 568.45L42.29 566.90L41.61 564.31L40.24 562.76L38.18 562.24L36.81 562.24M50.53 562.24L48.47 562.76L47.10 564.31L46.41 566.90L46.41 568.45L47.10 571.03L48.47 572.58L50.53 573.10L51.90 573.10L53.96 572.58L55.33 571.03L56.01 568.45L56.01 566.90L55.33 564.31L53.96 562.76L51.90 562.24L50.53 562.24" fill="none" stroke="#000" stroke-width="1.7" stroke-linecap="butt" stroke-linejoin="bevel"/></g>
<g role="img" aria-label="500"><title>500</title><path d="M27.20 619.14L20.34 619.14L19.66 623.80L20.34 623.28L22.40 622.76L24.46 622.76L26.52 623.28L27.89 624.31L28.57 625.86L28.57 626.90L27.89 628.45L26.52 629.48L24.46 630.00L22.40 630.00L20.34 629.48L19.66 628.97L18.97 627.93M36.81 619.14L34.75 619.66L33.38 621.21L32.69 623.80L32.69 625.35L33.38 627.93L34.75 629.48L36.81 630.00L38.18 630.00L40.24 629.48L41.61 627.93L42.29 625.35L42.29 623.80L41.61 621.21L40.24 619.66L38.18 619.14L36.81 619.14M50.53 619.14L48.47 619.66L47.10 621.21L46.41 623.80L46.41 625.35L47.10 627.93L48.47 629.48L50.53 630.00L51.90 630.00L53.96 629.48L55.33 627.93L56.01 625.35L56.01 623.80L55.33 621.21L53.96 619.66L51.90 619.14L50.53 619.14" fill="none" stroke="#000" stroke-width="1.7" stroke-linecap="butt" stroke-linejoin="bevel"/></g>
<g role="img" aria-label="Z=0.0002"><title>Z=0.0002</title><path d="M301.35 23.08L291.75 34.15M291.75 23.08L301.35 23.08M291.75 34.15L301.35 34.15M306.16 27.83L318.50 27.83M306.16 30.99L318.50 30.99M327.42 23.08L325.36 23.61L323.99 25.19L323.31 27.83L323.31 29.41L323.99 32.04L325.36 33.62L327.42 34.15L328.79 34.15L330.85 33.62L332.22 32.04L332.91 29.41L332.91 27.83L332.22 25.19L330.85 23.61L328.79 23.08L327.42 23.08M338.40 33.10L337.71 33.62L338.40 34.15L339.08 33.62L338.40 33.10M348.00 23.08L345.94 23.61L344.57 25.19L343.89 27.83L343.89 29.41L344.57 32.04L345.94 33.62L348.00 34.15L349.37 34.15L351.43 33.62L352.80 32.04L353.49 29.41L353.49 27.83L352.80 25.19L351.43 23.61L349.37 23.08L348.00 23.08M361.72 23.08L359.66 23.61L358.29 25.19L357.61 27.83L357.61 29.41L358.29 32.04L359.66 33.62L361.72 34.15L363.09 34.15L365.15 33.62L366.52 32.04L367.21 29.41L367.21 27.83L366.52 25.19L365.15 23.61L363.09 23.08L361.72 23.08M375.44 23.08L373.38 23.61L372.01 25.19L371.33 27.83L371.33 29.41L372.01 32.04L373.38 33.62L375.44 34.15L376.81 34.15L378.87 33.62L380.24 32.04L380.93 29.41L380.93 27.83L380.24 25.19L378.87 23.61L376.81 23.08L375.44 23.08M385.73 25.72L385.73 25.19L386.42 24.14L387.10 23.61L388.48 23.08L391.22 23.08L392.59 23.61L393.28 24.14L393.96 25.19L393.96 26.24L393.28 27.30L391.91 28.88L385.05 34.15L394.65 34.15" fill="none" stroke="#000" stroke-width="1.7" stroke-linecap="butt" stroke-linejoin="bevel"/></g>
<g role="img" aria-label="Y=0.23"><title>Y=0.23</title><path d="M408.75 23.08L414.24 28.35L414.24 34.15M419.73 23.08L414.24 28.35M423.16 27.83L435.50 27.83M423.16 30.99L435.50 30.99M444.42 23.08L442.36 23.61L440.99 25.19L440.31 27.83L440.31 29.41L440.99 32.04L442.36 33.62L444.42 34.15L445.79 34.15L447.85 33.62L449.22 32.04L449.91 29.41L449.91 27.83L449.22 25.19L447.85 23.61L445.79 23.08L444.42 23.08M455.40 33.10L454.71 33.62L455.40 34.15L456.08 33.62L455.40 33.10M461.57 25.72L461.57 25.19L462.26 24.14L462.94 23.61L464.32 23.08L467.06 23.08L468.43 23.61L469.12 24.14L469.80 25.19L469.80 26.24L469.12 27.30L467.75 28.88L460.89 34.15L470.49 34.15M475.98 23.08L483.52 23.08L479.41 27.30L481.47 27.30L482.84 27.83L483.52 28.35L484.21 29.93L484.21 30.99L483.52 32.57L482.15 33.62L480.09 34.15L478.04 34.15L475.98 33.62L475.29 33.10L474.61 32.04" fill="none" stroke="#000" stroke-width="1.7" stroke-linecap="butt" stroke-linejoin="bevel"/></g>
<g role="img" aria-label="M/M"><title>M/M</title><path d="M510.25 23.08L510.25 34.15M510.25 23.08L515.83 34.15M521.40 23.08L515.83 34.15M521.40 23.08L521.40 34.15M538.13 20.97L525.58 37.84M542.31 23.08L542.31 34.15M542.31 23.08L547.89 34.15M553.46 23.08L547.89 34.15M553.46 23.08L553.46 34.15" fill="none" stroke="#000" stroke-width="1.7" stroke-linecap="butt" stroke-linejoin="bevel"/></g>
<g role="img" aria-label="sun"><title>⊙</title><ellipse cx="560.7" cy="33.4" rx="3.7" ry="2.8" fill="none" stroke="#000" stroke-width="1.6"/><ellipse cx="560.7" cy="33.4" rx="1.25" ry="1.05" fill="#000"/></g>
<g role="img" aria-label="=0.80"><title>=0.80</title><path d="M567.06 27.83L579.41 27.83M567.06 30.99L579.41 30.99M588.33 23.08L586.27 23.61L584.90 25.19L584.21 27.83L584.21 29.41L584.90 32.04L586.27 33.62L588.33 34.15L589.70 34.15L591.76 33.62L593.13 32.04L593.82 29.41L593.82 27.83L593.13 25.19L591.76 23.61L589.70 23.08L588.33 23.08M599.31 33.10L598.62 33.62L599.31 34.15L599.99 33.62L599.31 33.10M608.22 23.08L606.17 23.61L605.48 24.66L605.48 25.72L606.17 26.77L607.54 27.30L610.28 27.83L612.34 28.35L613.71 29.41L614.40 30.46L614.40 32.04L613.71 33.10L613.03 33.62L610.97 34.15L608.22 34.15L606.17 33.62L605.48 33.10L604.79 32.04L604.79 30.46L605.48 29.41L606.85 28.35L608.91 27.83L611.65 27.30L613.03 26.77L613.71 25.72L613.71 24.66L613.03 23.61L610.97 23.08L608.22 23.08M622.63 23.08L620.57 23.61L619.20 25.19L618.51 27.83L618.51 29.41L619.20 32.04L620.57 33.62L622.63 34.15L624.00 34.15L626.06 33.62L627.43 32.04L628.12 29.41L628.12 27.83L627.43 25.19L626.06 23.61L624.00 23.08L622.63 23.08" fill="none" stroke="#000" stroke-width="1.7" stroke-linecap="butt" stroke-linejoin="bevel"/></g>
<g role="img" aria-label="Z=0.001"><title>Z=0.001</title><path d="M301.35 51.08L291.75 62.15M291.75 51.08L301.35 51.08M291.75 62.15L301.35 62.15M306.16 55.83L318.50 55.83M306.16 58.99L318.50 58.99M327.42 51.08L325.36 51.61L323.99 53.19L323.31 55.83L323.31 57.41L323.99 60.04L325.36 61.62L327.42 62.15L328.79 62.15L330.85 61.62L332.22 60.04L332.91 57.41L332.91 55.83L332.22 53.19L330.85 51.61L328.79 51.08L327.42 51.08M338.40 61.10L337.71 61.62L338.40 62.15L339.08 61.62L338.40 61.10M348.00 51.08L345.94 51.61L344.57 53.19L343.89 55.83L343.89 57.41L344.57 60.04L345.94 61.62L348.00 62.15L349.37 62.15L351.43 61.62L352.80 60.04L353.49 57.41L353.49 55.83L352.80 53.19L351.43 51.61L349.37 51.08L348.00 51.08M361.72 51.08L359.66 51.61L358.29 53.19L357.61 55.83L357.61 57.41L358.29 60.04L359.66 61.62L361.72 62.15L363.09 62.15L365.15 61.62L366.52 60.04L367.21 57.41L367.21 55.83L366.52 53.19L365.15 51.61L363.09 51.08L361.72 51.08M373.38 53.19L374.76 52.66L376.81 51.08L376.81 62.15" fill="none" stroke="#000" stroke-width="1.7" stroke-linecap="butt" stroke-linejoin="bevel"/></g>
<g role="img" aria-label="Y=0.232"><title>Y=0.232</title><path d="M395.00 51.08L400.49 56.35L400.49 62.15M405.98 51.08L400.49 56.35M409.41 55.83L421.75 55.83M409.41 58.99L421.75 58.99M430.67 51.08L428.61 51.61L427.24 53.19L426.56 55.83L426.56 57.41L427.24 60.04L428.61 61.62L430.67 62.15L432.04 62.15L434.10 61.62L435.47 60.04L436.16 57.41L436.16 55.83L435.47 53.19L434.10 51.61L432.04 51.08L430.67 51.08M441.65 61.10L440.96 61.62L441.65 62.15L442.33 61.62L441.65 61.10M447.82 53.72L447.82 53.19L448.51 52.14L449.19 51.61L450.57 51.08L453.31 51.08L454.68 51.61L455.37 52.14L456.05 53.19L456.05 54.24L455.37 55.30L454.00 56.88L447.14 62.15L456.74 62.15M462.23 51.08L469.77 51.08L465.66 55.30L467.72 55.30L469.09 55.83L469.77 56.35L470.46 57.93L470.46 58.99L469.77 60.57L468.40 61.62L466.34 62.15L464.29 62.15L462.23 61.62L461.54 61.10L460.86 60.04M475.26 53.72L475.26 53.19L475.95 52.14L476.63 51.61L478.01 51.08L480.75 51.08L482.12 51.61L482.81 52.14L483.49 53.19L483.49 54.24L482.81 55.30L481.44 56.88L474.58 62.15L484.18 62.15" fill="none" stroke="#000" stroke-width="1.7" stroke-linecap="butt" stroke-linejoin="bevel"/></g>
<g role="img" aria-label="M/M"><title>M/M</title><path d="M510.25 51.08L510.25 62.15M510.25 51.08L515.83 62.15M521.40 51.08L515.83 62.15M521.40 51.08L521.40 62.15M538.13 48.97L525.58 65.84M542.31 51.08L542.31 62.15M542.31 51.08L547.89 62.15M553.46 51.08L547.89 62.15M553.46 51.08L553.46 62.15" fill="none" stroke="#000" stroke-width="1.7" stroke-linecap="butt" stroke-linejoin="bevel"/></g>
<g role="img" aria-label="sun"><title>⊙</title><ellipse cx="560.7" cy="61.4" rx="3.7" ry="2.8" fill="none" stroke="#000" stroke-width="1.6"/><ellipse cx="560.7" cy="61.4" rx="1.25" ry="1.05" fill="#000"/></g>
<g role="img" aria-label="=0.80"><title>=0.80</title><path d="M567.06 55.83L579.41 55.83M567.06 58.99L579.41 58.99M588.33 51.08L586.27 51.61L584.90 53.19L584.21 55.83L584.21 57.41L584.90 60.04L586.27 61.62L588.33 62.15L589.70 62.15L591.76 61.62L593.13 60.04L593.82 57.41L593.82 55.83L593.13 53.19L591.76 51.61L589.70 51.08L588.33 51.08M599.31 61.10L598.62 61.62L599.31 62.15L599.99 61.62L599.31 61.10M608.22 51.08L606.17 51.61L605.48 52.66L605.48 53.72L606.17 54.77L607.54 55.30L610.28 55.83L612.34 56.35L613.71 57.41L614.40 58.46L614.40 60.04L613.71 61.10L613.03 61.62L610.97 62.15L608.22 62.15L606.17 61.62L605.48 61.10L604.79 60.04L604.79 58.46L605.48 57.41L606.85 56.35L608.91 55.83L611.65 55.30L613.03 54.77L613.71 53.72L613.71 52.66L613.03 51.61L610.97 51.08L608.22 51.08M622.63 51.08L620.57 51.61L619.20 53.19L618.51 55.83L618.51 57.41L619.20 60.04L620.57 61.62L622.63 62.15L624.00 62.15L626.06 61.62L627.43 60.04L628.12 57.41L628.12 55.83L627.43 53.19L626.06 51.61L624.00 51.08L622.63 51.08" fill="none" stroke="#000" stroke-width="1.7" stroke-linecap="butt" stroke-linejoin="bevel"/></g>
<g role="img" aria-label="Z=0.001"><title>Z=0.001</title><path d="M301.35 338.63L291.75 349.70M291.75 338.63L301.35 338.63M291.75 349.70L301.35 349.70M306.16 343.38L318.50 343.38M306.16 346.54L318.50 346.54M327.42 338.63L325.36 339.16L323.99 340.74L323.31 343.38L323.31 344.96L323.99 347.59L325.36 349.17L327.42 349.70L328.79 349.70L330.85 349.17L332.22 347.59L332.91 344.96L332.91 343.38L332.22 340.74L330.85 339.16L328.79 338.63L327.42 338.63M338.40 348.65L337.71 349.17L338.40 349.70L339.08 349.17L338.40 348.65M348.00 338.63L345.94 339.16L344.57 340.74L343.89 343.38L343.89 344.96L344.57 347.59L345.94 349.17L348.00 349.70L349.37 349.70L351.43 349.17L352.80 347.59L353.49 344.96L353.49 343.38L352.80 340.74L351.43 339.16L349.37 338.63L348.00 338.63M361.72 338.63L359.66 339.16L358.29 340.74L357.61 343.38L357.61 344.96L358.29 347.59L359.66 349.17L361.72 349.70L363.09 349.70L365.15 349.17L366.52 347.59L367.21 344.96L367.21 343.38L366.52 340.74L365.15 339.16L363.09 338.63L361.72 338.63M373.38 340.74L374.76 340.21L376.81 338.63L376.81 349.70" fill="none" stroke="#000" stroke-width="1.7" stroke-linecap="butt" stroke-linejoin="bevel"/></g>
<g role="img" aria-label="Y=0.232"><title>Y=0.232</title><path d="M395.00 338.63L400.49 343.90L400.49 349.70M405.98 338.63L400.49 343.90M409.41 343.38L421.75 343.38M409.41 346.54L421.75 346.54M430.67 338.63L428.61 339.16L427.24 340.74L426.56 343.38L426.56 344.96L427.24 347.59L428.61 349.17L430.67 349.70L432.04 349.70L434.10 349.17L435.47 347.59L436.16 344.96L436.16 343.38L435.47 340.74L434.10 339.16L432.04 338.63L430.67 338.63M441.65 348.65L440.96 349.17L441.65 349.70L442.33 349.17L441.65 348.65M447.82 341.27L447.82 340.74L448.51 339.69L449.19 339.16L450.57 338.63L453.31 338.63L454.68 339.16L455.37 339.69L456.05 340.74L456.05 341.80L455.37 342.85L454.00 344.43L447.14 349.70L456.74 349.70M462.23 338.63L469.77 338.63L465.66 342.85L467.72 342.85L469.09 343.38L469.77 343.90L470.46 345.48L470.46 346.54L469.77 348.12L468.40 349.17L466.34 349.70L464.29 349.70L462.23 349.17L461.54 348.65L460.86 347.59M475.26 341.27L475.26 340.74L475.95 339.69L476.63 339.16L478.01 338.63L480.75 338.63L482.12 339.16L482.81 339.69L483.49 340.74L483.49 341.80L482.81 342.85L481.44 344.43L474.58 349.70L484.18 349.70" fill="none" stroke="#000" stroke-width="1.7" stroke-linecap="butt" stroke-linejoin="bevel"/></g>
<g role="img" aria-label="M/M"><title>M/M</title><path d="M510.25 338.63L510.25 349.70M510.25 338.63L515.83 349.70M521.40 338.63L515.83 349.70M521.40 338.63L521.40 349.70M538.13 336.52L525.58 353.39M542.31 338.63L542.31 349.70M542.31 338.63L547.89 349.70M553.46 338.63L547.89 349.70M553.46 338.63L553.46 349.70" fill="none" stroke="#000" stroke-width="1.7" stroke-linecap="butt" stroke-linejoin="bevel"/></g>
<g role="img" aria-label="sun"><title>⊙</title><ellipse cx="560.7" cy="348.95" rx="3.7" ry="2.8" fill="none" stroke="#000" stroke-width="1.6"/><ellipse cx="560.7" cy="348.95" rx="1.25" ry="1.05" fill="#000"/></g>
<g role="img" aria-label="=0.80"><title>=0.80</title><path d="M567.06 343.38L579.41 343.38M567.06 346.54L579.41 346.54M588.33 338.63L586.27 339.16L584.90 340.74L584.21 343.38L584.21 344.96L584.90 347.59L586.27 349.17L588.33 349.70L589.70 349.70L591.76 349.17L593.13 347.59L593.82 344.96L593.82 343.38L593.13 340.74L591.76 339.16L589.70 338.63L588.33 338.63M599.31 348.65L598.62 349.17L599.31 349.70L599.99 349.17L599.31 348.65M608.22 338.63L606.17 339.16L605.48 340.21L605.48 341.27L606.17 342.32L607.54 342.85L610.28 343.38L612.34 343.90L613.71 344.96L614.40 346.01L614.40 347.59L613.71 348.65L613.03 349.17L610.97 349.70L608.22 349.70L606.17 349.17L605.48 348.65L604.79 347.59L604.79 346.01L605.48 344.96L606.85 343.90L608.91 343.38L611.65 342.85L613.03 342.32L613.71 341.27L613.71 340.21L613.03 339.16L610.97 338.63L608.22 338.63M622.63 338.63L620.57 339.16L619.20 340.74L618.51 343.38L618.51 344.96L619.20 347.59L620.57 349.17L622.63 349.70L624.00 349.70L626.06 349.17L627.43 347.59L628.12 344.96L628.12 343.38L627.43 340.74L626.06 339.16L624.00 338.63L622.63 338.63" fill="none" stroke="#000" stroke-width="1.7" stroke-linecap="butt" stroke-linejoin="bevel"/></g>
<g role="img" aria-label="Z=0.001"><title>Z=0.001</title><path d="M301.35 366.63L291.75 377.70M291.75 366.63L301.35 366.63M291.75 377.70L301.35 377.70M306.16 371.38L318.50 371.38M306.16 374.54L318.50 374.54M327.42 366.63L325.36 367.16L323.99 368.74L323.31 371.38L323.31 372.96L323.99 375.59L325.36 377.17L327.42 377.70L328.79 377.70L330.85 377.17L332.22 375.59L332.91 372.96L332.91 371.38L332.22 368.74L330.85 367.16L328.79 366.63L327.42 366.63M338.40 376.65L337.71 377.17L338.40 377.70L339.08 377.17L338.40 376.65M348.00 366.63L345.94 367.16L344.57 368.74L343.89 371.38L343.89 372.96L344.57 375.59L345.94 377.17L348.00 377.70L349.37 377.70L351.43 377.17L352.80 375.59L353.49 372.96L353.49 371.38L352.80 368.74L351.43 367.16L349.37 366.63L348.00 366.63M361.72 366.63L359.66 367.16L358.29 368.74L357.61 371.38L357.61 372.96L358.29 375.59L359.66 377.17L361.72 377.70L363.09 377.70L365.15 377.17L366.52 375.59L367.21 372.96L367.21 371.38L366.52 368.74L365.15 367.16L363.09 366.63L361.72 366.63M373.38 368.74L374.76 368.21L376.81 366.63L376.81 377.70" fill="none" stroke="#000" stroke-width="1.7" stroke-linecap="butt" stroke-linejoin="bevel"/></g>
<g role="img" aria-label="Y=0.232"><title>Y=0.232</title><path d="M395.00 366.63L400.49 371.90L400.49 377.70M405.98 366.63L400.49 371.90M409.41 371.38L421.75 371.38M409.41 374.54L421.75 374.54M430.67 366.63L428.61 367.16L427.24 368.74L426.56 371.38L426.56 372.96L427.24 375.59L428.61 377.17L430.67 377.70L432.04 377.70L434.10 377.17L435.47 375.59L436.16 372.96L436.16 371.38L435.47 368.74L434.10 367.16L432.04 366.63L430.67 366.63M441.65 376.65L440.96 377.17L441.65 377.70L442.33 377.17L441.65 376.65M447.82 369.27L447.82 368.74L448.51 367.69L449.19 367.16L450.57 366.63L453.31 366.63L454.68 367.16L455.37 367.69L456.05 368.74L456.05 369.80L455.37 370.85L454.00 372.43L447.14 377.70L456.74 377.70M462.23 366.63L469.77 366.63L465.66 370.85L467.72 370.85L469.09 371.38L469.77 371.90L470.46 373.48L470.46 374.54L469.77 376.12L468.40 377.17L466.34 377.70L464.29 377.70L462.23 377.17L461.54 376.65L460.86 375.59M475.26 369.27L475.26 368.74L475.95 367.69L476.63 367.16L478.01 366.63L480.75 366.63L482.12 367.16L482.81 367.69L483.49 368.74L483.49 369.80L482.81 370.85L481.44 372.43L474.58 377.70L484.18 377.70" fill="none" stroke="#000" stroke-width="1.7" stroke-linecap="butt" stroke-linejoin="bevel"/></g>
<g role="img" aria-label="M/M"><title>M/M</title><path d="M510.25 366.63L510.25 377.70M510.25 366.63L515.83 377.70M521.40 366.63L515.83 377.70M521.40 366.63L521.40 377.70M538.13 364.52L525.58 381.39M542.31 366.63L542.31 377.70M542.31 366.63L547.89 377.70M553.46 366.63L547.89 377.70M553.46 366.63L553.46 377.70" fill="none" stroke="#000" stroke-width="1.7" stroke-linecap="butt" stroke-linejoin="bevel"/></g>
<g role="img" aria-label="sun"><title>⊙</title><ellipse cx="560.7" cy="376.95" rx="3.7" ry="2.8" fill="none" stroke="#000" stroke-width="1.6"/><ellipse cx="560.7" cy="376.95" rx="1.25" ry="1.05" fill="#000"/></g>
<g role="img" aria-label="=0.85"><title>=0.85</title><path d="M567.06 371.38L579.41 371.38M567.06 374.54L579.41 374.54M588.33 366.63L586.27 367.16L584.90 368.74L584.21 371.38L584.21 372.96L584.90 375.59L586.27 377.17L588.33 377.70L589.70 377.70L591.76 377.17L593.13 375.59L593.82 372.96L593.82 371.38L593.13 368.74L591.76 367.16L589.70 366.63L588.33 366.63M599.31 376.65L598.62 377.17L599.31 377.70L599.99 377.17L599.31 376.65M608.22 366.63L606.17 367.16L605.48 368.21L605.48 369.27L606.17 370.32L607.54 370.85L610.28 371.38L612.34 371.90L613.71 372.96L614.40 374.01L614.40 375.59L613.71 376.65L613.03 377.17L610.97 377.70L608.22 377.70L606.17 377.17L605.48 376.65L604.79 375.59L604.79 374.01L605.48 372.96L606.85 371.90L608.91 371.38L611.65 370.85L613.03 370.32L613.71 369.27L613.71 368.21L613.03 367.16L610.97 366.63L608.22 366.63M626.75 366.63L619.89 366.63L619.20 371.38L619.89 370.85L621.94 370.32L624.00 370.32L626.06 370.85L627.43 371.90L628.12 373.48L628.12 374.54L627.43 376.12L626.06 377.17L624.00 377.70L621.94 377.70L619.89 377.17L619.20 376.65L618.51 375.59" fill="none" stroke="#000" stroke-width="1.7" stroke-linecap="butt" stroke-linejoin="bevel"/></g>
<g role="img" aria-label="B,B−F625W &amp; B,B−V"><title>B,B−F625W &amp; B,B−V</title><path d="M99.50 272.21L99.50 282.60M99.50 272.21L105.67 272.21L107.73 272.70L108.42 273.20L109.10 274.19L109.10 275.18L108.42 276.17L107.73 276.66L105.67 277.16M99.50 277.16L105.67 277.16L107.73 277.65L108.42 278.15L109.10 279.14L109.10 280.62L108.42 281.61L107.73 282.11L105.67 282.60L99.50 282.60M115.28 282.11L114.59 282.60L113.91 282.11L114.59 281.61L115.28 282.11L115.28 283.10L114.59 284.09L113.91 284.58M120.77 272.21L120.77 282.60M120.77 272.21L126.94 272.21L129.00 272.70L129.68 273.20L130.37 274.19L130.37 275.18L129.68 276.17L129.00 276.66L126.94 277.16M120.77 277.16L126.94 277.16L129.00 277.65L129.68 278.15L130.37 279.14L130.37 280.62L129.68 281.61L129.00 282.11L126.94 282.60L120.77 282.60M135.17 278.15L147.52 278.15M153.01 272.21L153.01 282.60M153.01 272.21L161.93 272.21M153.01 277.16L158.50 277.16M173.59 273.69L172.90 272.70L170.84 272.21L169.47 272.21L167.41 272.70L166.04 274.19L165.36 276.66L165.36 279.14L166.04 281.12L167.41 282.11L169.47 282.60L170.16 282.60L172.22 282.11L173.59 281.12L174.27 279.63L174.27 279.14L173.59 277.65L172.22 276.66L170.16 276.17L169.47 276.17L167.41 276.66L166.04 277.65L165.36 279.14M179.08 274.68L179.08 274.19L179.76 273.20L180.45 272.70L181.82 272.21L184.56 272.21L185.94 272.70L186.62 273.20L187.31 274.19L187.31 275.18L186.62 276.17L185.25 277.65L178.39 282.60L187.99 282.60M200.34 272.21L193.48 272.21L192.80 276.66L193.48 276.17L195.54 275.67L197.60 275.67L199.66 276.17L201.03 277.16L201.71 278.64L201.71 279.63L201.03 281.12L199.66 282.11L197.60 282.60L195.54 282.60L193.48 282.11L192.80 281.61L192.11 280.62M205.14 272.21L208.57 282.60M212.00 272.21L208.57 282.60M212.00 272.21L215.43 282.60M218.86 272.21L215.43 282.60M246.99 276.66L246.99 276.17L246.30 275.67L245.62 275.67L244.93 276.17L244.25 277.16L242.87 279.63L241.50 281.12L240.13 282.11L238.76 282.60L236.01 282.60L234.64 282.11L233.96 281.61L233.27 280.62L233.27 279.63L233.96 278.64L234.64 278.15L239.44 276.17L240.13 275.67L240.82 274.68L240.82 273.69L240.13 272.70L238.76 272.21L237.39 272.70L236.70 273.69L236.70 274.68L237.39 276.17L238.76 277.65L242.19 281.12L243.56 282.11L244.93 282.60L246.30 282.60L246.99 282.11L246.99 281.61M262.77 272.21L262.77 282.60M262.77 272.21L268.94 272.21L271.00 272.70L271.69 273.20L272.37 274.19L272.37 275.18L271.69 276.17L271.00 276.66L268.94 277.16M262.77 277.16L268.94 277.16L271.00 277.65L271.69 278.15L272.37 279.14L272.37 280.62L271.69 281.61L271.00 282.11L268.94 282.60L262.77 282.60M278.55 282.11L277.86 282.60L277.17 282.11L277.86 281.61L278.55 282.11L278.55 283.10L277.86 284.09L277.17 284.58M284.03 272.21L284.03 282.60M284.03 272.21L290.21 272.21L292.27 272.70L292.95 273.20L293.64 274.19L293.64 275.18L292.95 276.17L292.27 276.66L290.21 277.16M284.03 277.16L290.21 277.16L292.27 277.65L292.95 278.15L293.64 279.14L293.64 280.62L292.95 281.61L292.27 282.11L290.21 282.60L284.03 282.60M298.44 278.15L310.79 278.15M314.22 272.21L319.71 282.60M325.19 272.21L319.71 282.60" fill="none" stroke="#000" stroke-width="1.7" stroke-linecap="butt" stroke-linejoin="bevel"/></g>
<g role="img" aria-label="B,B−F658N  &amp;  B,U−V"><title>B,B−F658N  &amp;  B,U−V</title><path d="M99.50 587.46L99.50 597.85M99.50 587.46L105.67 587.46L107.73 587.95L108.42 588.45L109.10 589.44L109.10 590.43L108.42 591.42L107.73 591.91L105.67 592.40M99.50 592.40L105.67 592.40L107.73 592.90L108.42 593.39L109.10 594.38L109.10 595.87L108.42 596.86L107.73 597.36L105.67 597.85L99.50 597.85M115.28 597.36L114.59 597.85L113.91 597.36L114.59 596.86L115.28 597.36L115.28 598.35L114.59 599.34L113.91 599.83M120.77 587.46L120.77 597.85M120.77 587.46L126.94 587.46L129.00 587.95L129.68 588.45L130.37 589.44L130.37 590.43L129.68 591.42L129.00 591.91L126.94 592.40M120.77 592.40L126.94 592.40L129.00 592.90L129.68 593.39L130.37 594.38L130.37 595.87L129.68 596.86L129.00 597.36L126.94 597.85L120.77 597.85M135.17 593.39L147.52 593.39M153.01 587.46L153.01 597.85M153.01 587.46L161.93 587.46M153.01 592.40L158.50 592.40M173.59 588.94L172.90 587.95L170.84 587.46L169.47 587.46L167.41 587.95L166.04 589.44L165.36 591.91L165.36 594.38L166.04 596.37L167.41 597.36L169.47 597.85L170.16 597.85L172.22 597.36L173.59 596.37L174.27 594.88L174.27 594.38L173.59 592.90L172.22 591.91L170.16 591.42L169.47 591.42L167.41 591.91L166.04 592.90L165.36 594.38M186.62 587.46L179.76 587.46L179.08 591.91L179.76 591.42L181.82 590.92L183.88 590.92L185.94 591.42L187.31 592.40L187.99 593.89L187.99 594.88L187.31 596.37L185.94 597.36L183.88 597.85L181.82 597.85L179.76 597.36L179.08 596.86L178.39 595.87M195.54 587.46L193.48 587.95L192.80 588.94L192.80 589.93L193.48 590.92L194.85 591.42L197.60 591.91L199.66 592.40L201.03 593.39L201.71 594.38L201.71 595.87L201.03 596.86L200.34 597.36L198.28 597.85L195.54 597.85L193.48 597.36L192.80 596.86L192.11 595.87L192.11 594.38L192.80 593.39L194.17 592.40L196.23 591.91L198.97 591.42L200.34 590.92L201.03 589.93L201.03 588.94L200.34 587.95L198.28 587.46L195.54 587.46M206.52 587.46L206.52 597.85M206.52 587.46L216.12 597.85M216.12 587.46L216.12 597.85M256.59 591.91L256.59 591.42L255.91 590.92L255.22 590.92L254.54 591.42L253.85 592.40L252.48 594.88L251.11 596.37L249.73 597.36L248.36 597.85L245.62 597.85L244.25 597.36L243.56 596.86L242.87 595.87L242.87 594.88L243.56 593.89L244.25 593.39L249.05 591.42L249.73 590.92L250.42 589.93L250.42 588.94L249.73 587.95L248.36 587.46L246.99 587.95L246.30 588.94L246.30 589.93L246.99 591.42L248.36 592.90L251.79 596.37L253.16 597.36L254.54 597.85L255.91 597.85L256.59 597.36L256.59 596.86M283.35 587.46L283.35 597.85M283.35 587.46L289.52 587.46L291.58 587.95L292.27 588.45L292.95 589.44L292.95 590.43L292.27 591.42L291.58 591.91L289.52 592.40M283.35 592.40L289.52 592.40L291.58 592.90L292.27 593.39L292.95 594.38L292.95 595.87L292.27 596.86L291.58 597.36L289.52 597.85L283.35 597.85M299.13 597.36L298.44 597.85L297.75 597.36L298.44 596.86L299.13 597.36L299.13 598.35L298.44 599.34L297.75 599.83M304.61 587.46L304.61 594.88L305.30 596.37L306.67 597.36L308.73 597.85L310.10 597.85L312.16 597.36L313.53 596.37L314.22 594.88L314.22 587.46M319.71 593.39L332.05 593.39M335.48 587.46L340.97 597.85M346.46 587.46L340.97 597.85" fill="none" stroke="#000" stroke-width="1.7" stroke-linecap="butt" stroke-linejoin="bevel"/></g>
</g>
</svg>
</body></html>
